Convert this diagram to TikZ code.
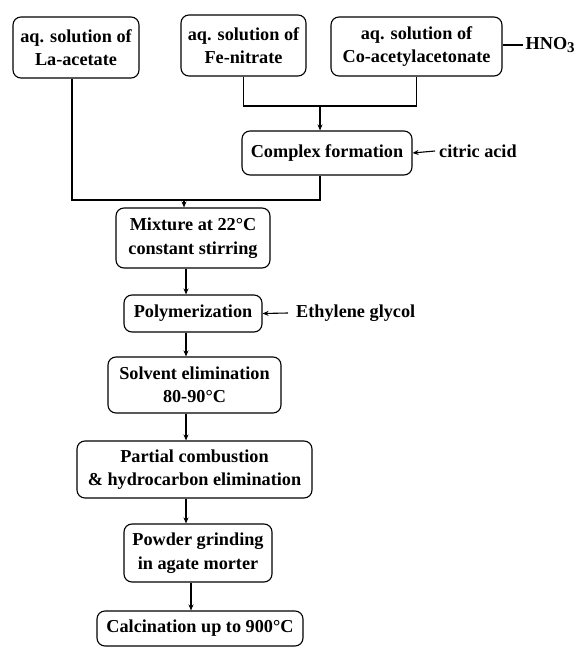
\documentclass[tikz,border=0pt]{standalone}
\usepackage{fontspec}
\setmainfont{Liberation Serif}
\usetikzlibrary{arrows.meta,calc}
\begin{document}
\begin{tikzpicture}[x=1bp,y=-1bp,
  font=\fontsize{18.3}{23.5}\selectfont\bfseries,
  proc/.style={draw,line width=1.1bp,rounded corners=8bp,align=center,inner sep=0pt},
  lbl/.style={inner sep=0bp,anchor=west},
  ln/.style={line width=1.1bp},
  arr/.style={line width=1.1bp,-{Stealth[length=6bp,width=5bp]}}]
\useasboundingbox (0,0) rectangle (578,648);
\node[proc,minimum width=126bp,minimum height=61bp] (la) at (76,47.5) {aq. solution of\\La-acetate};
\node[proc,minimum width=125bp,minimum height=61bp] (fe) at (243.5,45.5) {aq. solution of\\Fe-nitrate};
\node[proc,minimum width=171bp,minimum height=59bp] (co) at (416.5,46.5) {aq. solution of\\Co-acetylacetonate};
\node[lbl,inner sep=2.5bp] (hno) at (523,45) {HNO\raisebox{-0.45ex}{\fontsize{15}{15}\selectfont 3}};
\node[lbl,inner sep=4bp] (cit) at (435,151) {citric acid};
\node[proc,minimum width=170bp,minimum height=44bp] (cx) at (327,153) {Complex formation};
\node[proc,minimum width=154bp,minimum height=60bp] (mix) at (193,238) {Mixture at 22°C\\constant stirring};
\node[proc,minimum width=138bp,minimum height=37bp] (poly) at (193,313.5) {Polymerization};
\node[lbl,inner sep=8bp] (eth) at (288,313) {Ethylene glycol};
\node[proc,minimum width=173bp,minimum height=56bp] (solv) at (194.5,385) {Solvent elimination\\80-90°C};
\node[proc,minimum width=235bp,minimum height=57bp] (part) at (194.5,469.5) {Partial combustion\\\& hydrocarbon elimination};
\node[proc,minimum width=148bp,minimum height=58bp] (powd) at (198,553) {Powder grinding\\in agate morter};
\node[proc,minimum width=206bp,minimum height=35bp] (calc) at (200,628.5) {Calcination up to 900°C};
% junctions
\coordinate (j1) at (320,106);
\coordinate (j2) at (184,200);
\coordinate (lax) at (72,0);
\coordinate (sp) at (186,0);
\coordinate (sp2) at (191,0);
\draw[ln] (co.east |- hno.west) -- (hno.west);
\draw[ln] (fe.south) |- (j1) -| (co.south);
\draw[arr] (j1) -- (j1 |- cx.north);
\draw[arr] (cit.west) -- (cx.east);
\draw[ln] (la.south -| lax) |- (j2) -| (cx.south -| j1);
\draw[arr] (j2) -- (j2 |- mix.north);
\draw[arr] (mix.south -| sp) -- (poly.north -| sp);
\draw[arr] (eth.west) -- (poly.east);
\draw[arr] (poly.south -| sp) -- (solv.north -| sp);
\draw[arr] (solv.south -| sp) -- (part.north -| sp);
\draw[arr] (part.south -| sp) -- (powd.north -| sp);
\draw[arr] (powd.south -| sp2) -- (calc.north -| sp2);
\end{tikzpicture}
\end{document}
